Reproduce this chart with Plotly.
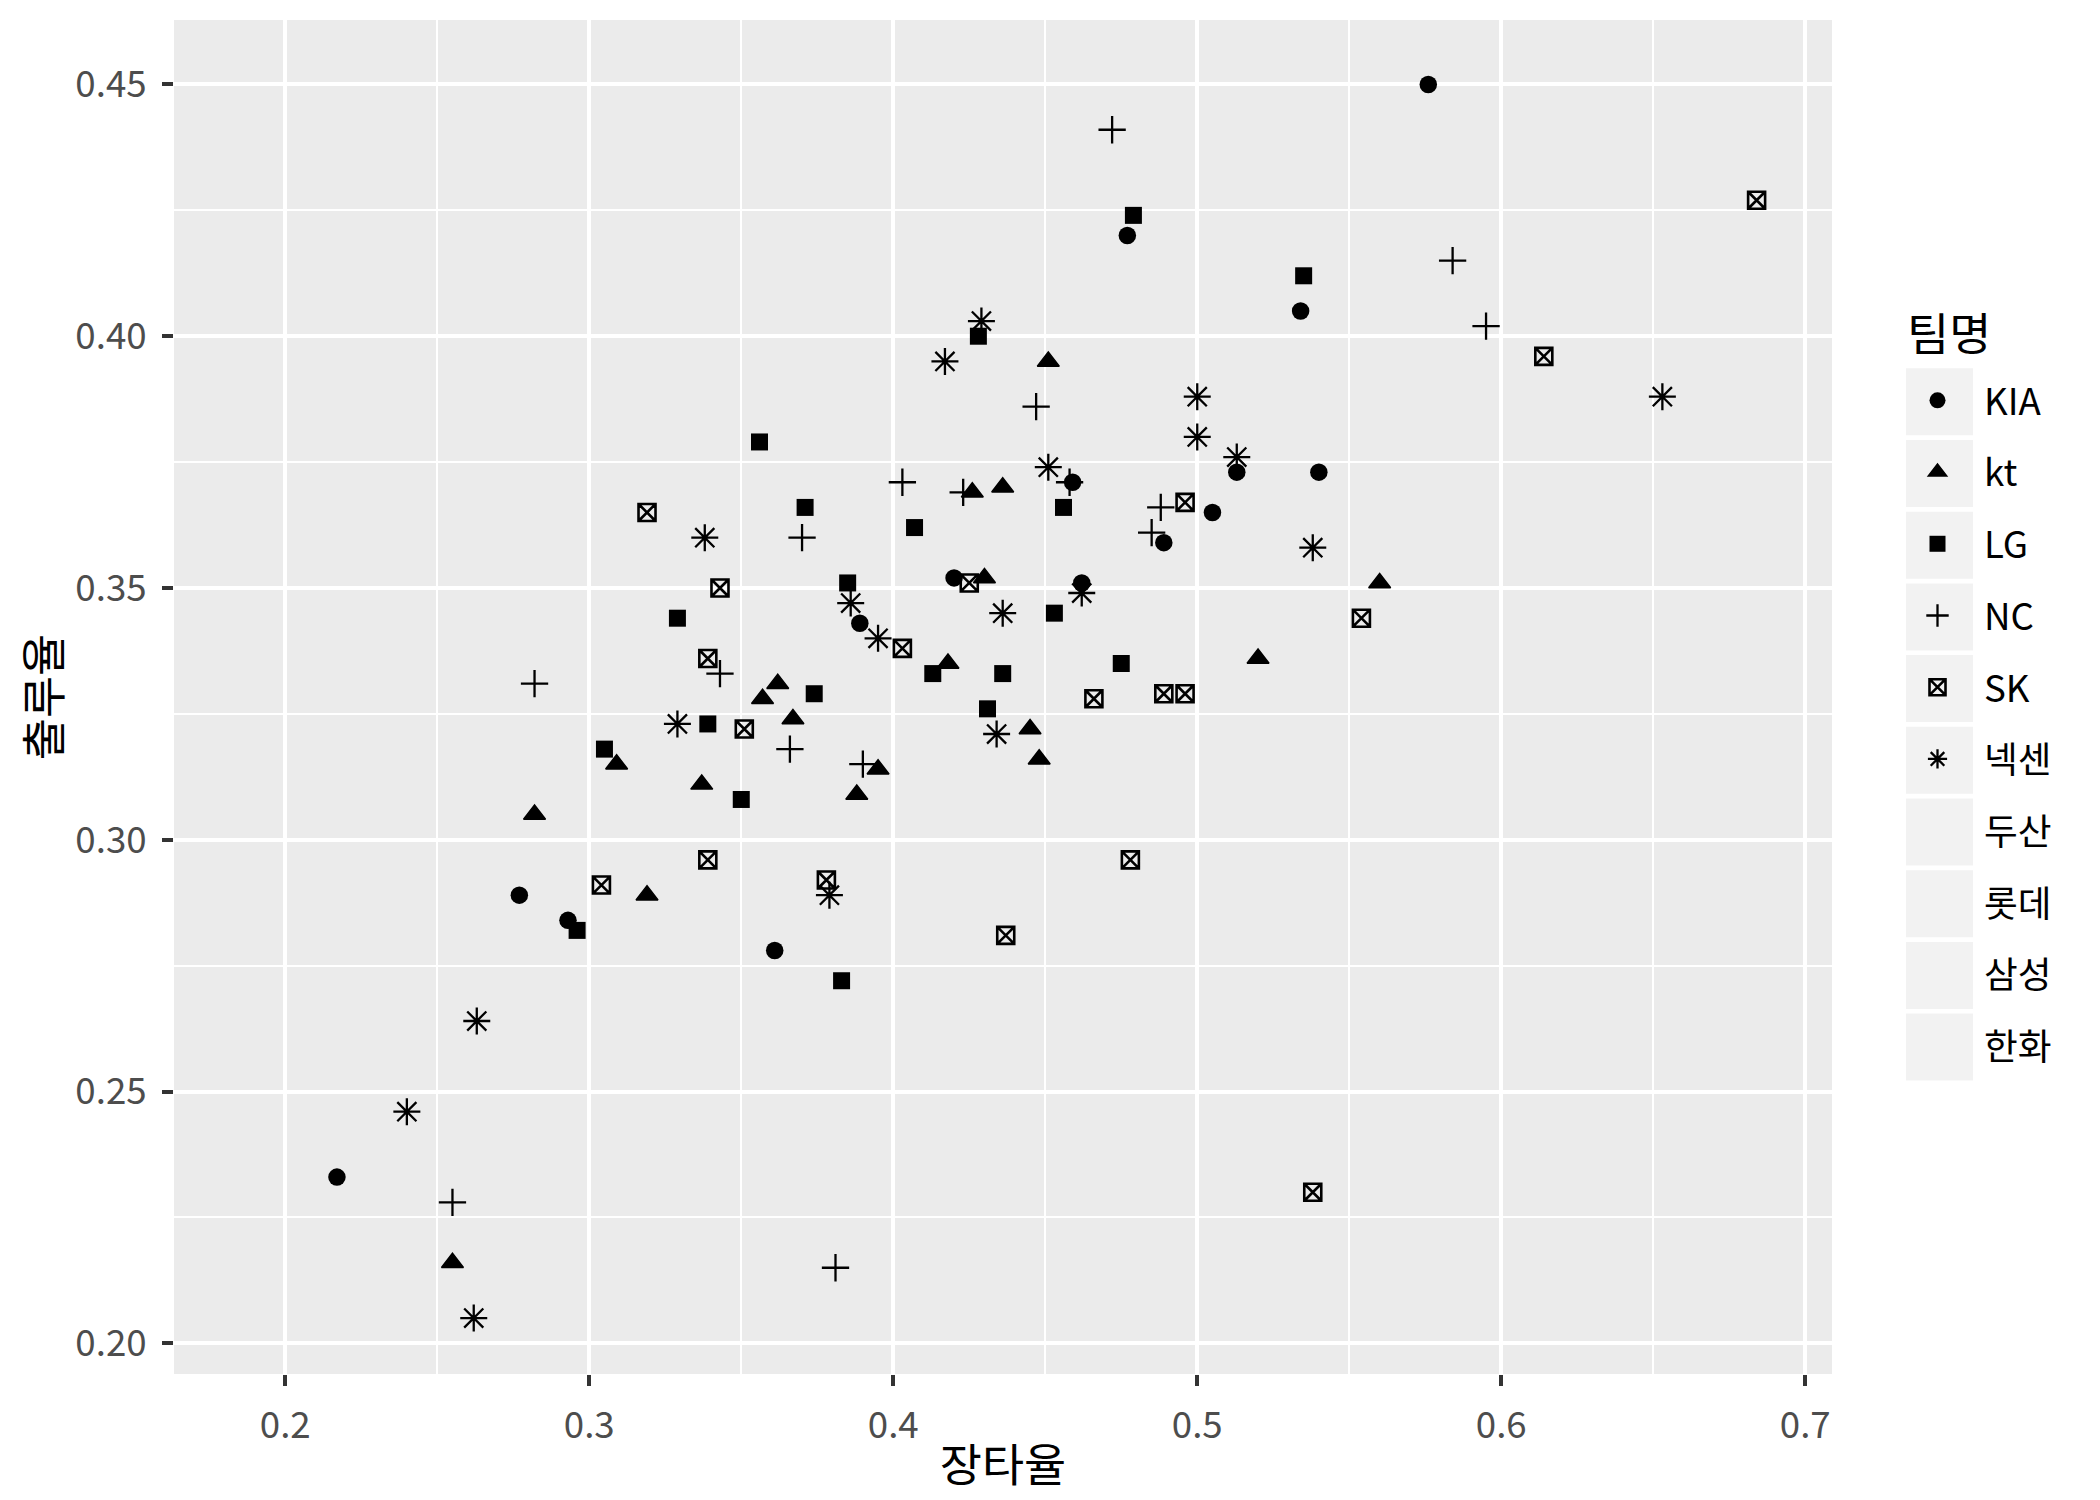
import plotly.graph_objects as go

# 팀별 장타율(x) / 출루율(y)
teams = ["KIA", "kt", "LG", "NC", "SK", "넥센", "두산", "롯데", "삼성", "한화"]

kia_x = [0.576, 0.477, 0.534, 0.513, 0.540, 0.459, 0.505, 0.489, 0.420, 0.462, 0.389, 0.277, 0.293, 0.361, 0.217]
kia_y = [0.450, 0.420, 0.405, 0.373, 0.373, 0.371, 0.365, 0.359, 0.352, 0.351, 0.343, 0.289, 0.284, 0.278, 0.233]

kt_x = [0.451, 0.426, 0.436, 0.430, 0.560, 0.418, 0.520, 0.362, 0.357, 0.367, 0.445, 0.448, 0.309, 0.337, 0.395, 0.388, 0.282, 0.319, 0.255]
kt_y = [0.395, 0.369, 0.370, 0.352, 0.351, 0.335, 0.336, 0.331, 0.328, 0.324, 0.322, 0.316, 0.315, 0.311, 0.314, 0.309, 0.305, 0.289, 0.216]

lg_x = [0.479, 0.535, 0.428, 0.356, 0.371, 0.456, 0.407, 0.385, 0.329, 0.453, 0.413, 0.436, 0.475, 0.374, 0.431, 0.339, 0.305, 0.350, 0.296, 0.383]
lg_y = [0.424, 0.412, 0.400, 0.379, 0.366, 0.366, 0.362, 0.351, 0.344, 0.345, 0.333, 0.333, 0.335, 0.329, 0.326, 0.323, 0.318, 0.308, 0.282, 0.272]

nc_x = [0.472, 0.584, 0.595, 0.447, 0.403, 0.423, 0.458, 0.488, 0.485, 0.370, 0.343, 0.282, 0.366, 0.390, 0.255, 0.381]
nc_y = [0.441, 0.415, 0.402, 0.386, 0.371, 0.369, 0.371, 0.366, 0.361, 0.360, 0.333, 0.331, 0.318, 0.315, 0.228, 0.215]

sk_x = [0.684, 0.614, 0.319, 0.496, 0.343, 0.425, 0.554, 0.339, 0.403, 0.466, 0.489, 0.496, 0.351, 0.339, 0.478, 0.304, 0.378, 0.437, 0.538]
sk_y = [0.427, 0.396, 0.365, 0.367, 0.350, 0.351, 0.344, 0.336, 0.338, 0.328, 0.329, 0.329, 0.322, 0.296, 0.296, 0.291, 0.292, 0.281, 0.230]

nexen_x = [0.429, 0.417, 0.500, 0.653, 0.500, 0.513, 0.451, 0.338, 0.538, 0.462, 0.386, 0.436, 0.395, 0.329, 0.434, 0.379, 0.263, 0.240, 0.262]
nexen_y = [0.403, 0.395, 0.388, 0.388, 0.380, 0.376, 0.374, 0.360, 0.358, 0.349, 0.347, 0.345, 0.340, 0.323, 0.321, 0.289, 0.264, 0.246, 0.205]

# shape palette runs out after 6 teams -> these are not drawn
empty_x = [None]
empty_y = [None]

series = {
    "KIA": (kia_x, kia_y),
    "kt": (kt_x, kt_y),
    "LG": (lg_x, lg_y),
    "NC": (nc_x, nc_y),
    "SK": (sk_x, sk_y),
    "넥센": (nexen_x, nexen_y),
}

FONT = "Noto Sans CJK KR"
OFF = 8  # page body margin
W, H = 2100 - OFF, 1500 - OFF
L, R, T, B = 174 - OFF, 268, 20 - OFF, 126

markers = {
    "KIA": dict(symbol="circle", size=17.5, color="black", line=dict(width=0)),
    "kt": dict(symbol="triangle-up", size=19, color="black", line=dict(width=1.5, color="black")),
    "LG": dict(symbol="square", size=17, color="black", line=dict(width=0)),
    "NC": dict(symbol="cross-thin-open", size=19.5, color="black", line=dict(width=2.3, color="black")),
    "SK": dict(symbol="square-x-open", size=17, color="black", line=dict(width=2.6, color="black")),
    "넥센": dict(symbol="asterisk-open", size=22.5, color="black", line=dict(width=2.3, color="black")),
}

fig = go.Figure()
for team in teams:
    if team in series:
        xs, ys = series[team]
        mk = markers[team]
    else:
        xs, ys = empty_x, empty_y
        mk = dict(symbol="circle", size=10, color="rgba(0,0,0,0)")
    fig.add_trace(go.Scatter(x=xs, y=ys, mode="markers", name=team,
                             legendgroup=team, marker=mk))

# screen pixel -> paper coords
def px_x(p):
    return (p - OFF - L) / (W - L - R)

def px_y(p):
    return (H - B - (p - OFF)) / (H - T - B)

# legend key backgrounds (grey95 with white border)
key_top = 401.8
key_pitch = 71.7
shapes = []
for i in range(len(teams)):
    c = key_top + i * key_pitch
    shapes.append(dict(type="rect", xref="paper", yref="paper",
                       x0=px_x(1904), x1=px_x(1975), y0=px_y(c - 35.5), y1=px_y(c + 35.5),
                       fillcolor="#F2F2F2", line=dict(color="white", width=4), layer="below"))

axis_common = dict(
    showgrid=True, gridcolor="white", gridwidth=4.4,
    zeroline=False, showline=False,
    ticks="outside", ticklen=11, tickwidth=4, tickcolor="#333333",
    tickfont=dict(family=FONT, size=36.7, color="#4D4D4D"),
    ticklabelstandoff=8,
)

fig.update_layout(
    width=W, height=H,
    margin=dict(l=L, r=R, t=T, b=B, autoexpand=False),
    paper_bgcolor="white", plot_bgcolor="#EBEBEB",
    font=dict(family=FONT, color="black"),
    shapes=shapes,
    annotations=[dict(text="팀명", xref="paper", yref="paper", x=px_x(1905), y=px_y(331),
                      xanchor="left", yanchor="middle", showarrow=False,
                      font=dict(family=FONT, size=45.8, color="black"))],
    xaxis=dict(range=[0.1634, 0.7088], tick0=0, dtick=0.1, tickformat=".1f",
               minor=dict(tick0=0, dtick=0.05, showgrid=True, gridcolor="white", gridwidth=2.2, ticks=""),
               title=dict(text="장타율", font=dict(family=FONT, size=45.8, color="black"), standoff=1),
               **axis_common),
    yaxis=dict(range=[0.1939, 0.4628], tick0=0, dtick=0.05, tickformat=".2f",
               minor=dict(tick0=0, dtick=0.025, showgrid=True, gridcolor="white", gridwidth=2.2, ticks=""),
               title=dict(text="출루율", font=dict(family=FONT, size=45.8, color="black"), standoff=17),
               **axis_common),
    legend=dict(
        x=px_x(1891), y=px_y(370), xanchor="left", yanchor="top",
        bgcolor="rgba(0,0,0,0)", borderwidth=0,
        font=dict(family=FONT, size=36.7, color="black"),
        itemwidth=83, traceorder="grouped", tracegroupgap=21,
    ),
    showlegend=True,
)

fig.write_html("out.html")
